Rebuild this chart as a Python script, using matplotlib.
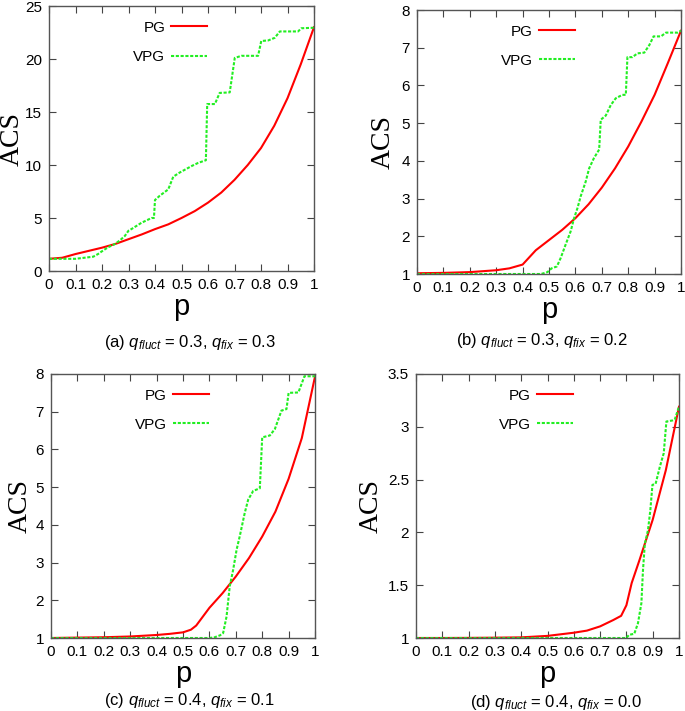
import matplotlib
matplotlib.use("Agg")
import matplotlib.pyplot as plt
from matplotlib.ticker import MultipleLocator, FormatStrFormatter

plt.rcParams['font.family'] = ['Liberation Sans', 'DejaVu Sans']
plt.rcParams['mathtext.fontset'] = 'custom'
plt.rcParams['mathtext.it'] = 'Liberation Sans:italic'
plt.rcParams['mathtext.rm'] = 'Liberation Sans'

# (a) q_fluct = 0.3, q_fix = 0.3
pg_p_a = [0, 0.05, 0.1, 0.15, 0.2, 0.25, 0.3, 0.35, 0.4, 0.45, 0.5, 0.55, 0.6, 0.65, 0.7,
          0.75, 0.8, 0.85, 0.9, 0.95, 1.0]
pg_a = [1.15, 1.25, 1.6, 1.9, 2.2, 2.55, 3.0, 3.45, 3.95, 4.4, 5.0, 5.65, 6.45, 7.4, 8.6,
        10.0, 11.6, 13.7, 16.3, 19.5, 23.0]
vpg_p_a = [0, 0.1, 0.167, 0.185, 0.205, 0.224, 0.249, 0.268, 0.286, 0.3, 0.314, 0.349, 0.387,
           0.396, 0.4, 0.418, 0.45, 0.469, 0.494, 0.538, 0.563, 0.592, 0.597, 0.626, 0.644,
           0.682, 0.701, 0.726, 0.789, 0.801, 0.827, 0.852, 0.871, 0.94, 0.952, 1.0]
vpg_a = [1.15, 1.15, 1.35, 1.6, 1.95, 2.25, 2.55, 2.9, 3.3, 3.8, 4.0, 4.55, 5.0,
         5.0, 6.7, 7.1, 7.7, 8.9, 9.3, 9.9, 10.2, 10.45, 15.75, 15.75, 16.8,
         16.85, 20.1, 20.3, 20.3, 21.7, 21.75, 22.0, 22.6, 22.6, 22.9, 22.95]

# (b) q_fluct = 0.3, q_fix = 0.2
pg_p_b = [0, 0.1, 0.2, 0.3, 0.35, 0.4, 0.45, 0.5, 0.55, 0.6, 0.65, 0.7, 0.75, 0.8, 0.85,
          0.9, 0.95, 1.0]
pg_b = [1.02, 1.03, 1.05, 1.1, 1.15, 1.25, 1.63, 1.9, 2.17, 2.48, 2.85, 3.29, 3.8, 4.38, 5.04,
        5.75, 6.59, 7.45]
vpg_p_b = [0, 0.47, 0.494, 0.51, 0.53, 0.544, 0.563, 0.582, 0.595, 0.608, 0.62, 0.639, 0.652,
           0.67, 0.69, 0.696, 0.715, 0.734, 0.753, 0.778, 0.791, 0.797, 0.816, 0.835, 0.861,
           0.88, 0.896, 0.924, 0.943, 0.987, 1.0]
vpg_b = [1.0, 1.0, 1.05, 1.15, 1.2, 1.42, 1.78, 2.13, 2.48, 2.75, 3.06, 3.45, 3.8,
         4.07, 4.3, 5.09, 5.2, 5.48, 5.66, 5.75, 5.75, 6.75, 6.75, 6.85, 6.87,
         7.07, 7.3, 7.3, 7.4, 7.4, 7.45]

# (c) q_fluct = 0.4, q_fix = 0.1
pg_p_c = [0, 0.1, 0.2, 0.3, 0.4, 0.45, 0.5, 0.53, 0.55, 0.6, 0.65, 0.7, 0.75, 0.8, 0.85,
          0.9, 0.95, 1.0]
pg_c = [1.0, 1.01, 1.02, 1.04, 1.08, 1.11, 1.15, 1.22, 1.33, 1.8, 2.19, 2.63, 3.12, 3.69, 4.35,
        5.22, 6.3, 7.93]
vpg_p_c = [0, 0.6, 0.62, 0.64, 0.652, 0.665, 0.677, 0.69, 0.703, 0.715, 0.734, 0.747, 0.766,
           0.791, 0.8, 0.829, 0.848, 0.873, 0.892, 0.9, 0.937, 0.96, 1.0]
vpg_c = [1.0, 1.0, 1.02, 1.07, 1.13, 1.57, 2.37, 2.81, 3.34, 3.7, 4.32, 4.67, 4.9,
         4.97, 6.32, 6.37, 6.54, 7.03, 7.07, 7.5, 7.51, 7.94, 7.94]

# (d) q_fluct = 0.4, q_fix = 0.0
pg_p_d = [0, 0.1, 0.2, 0.3, 0.4, 0.5, 0.6, 0.65, 0.7, 0.75, 0.78, 0.8, 0.82, 0.85, 0.9,
          0.95, 1.0]
pg_d = [1.0, 1.0, 1.001, 1.003, 1.006, 1.02, 1.05, 1.07, 1.11, 1.17, 1.21, 1.31, 1.52, 1.74, 2.12,
        2.59, 3.19]
vpg_p_d = [0, 0.8, 0.81, 0.83, 0.844, 0.857, 0.863, 0.87, 0.882, 0.891, 0.899, 0.911, 0.927,
           0.942, 0.952, 0.975, 0.984, 1.0]
vpg_d = [1.0, 1.0, 1.03, 1.04, 1.14, 1.33, 1.64, 1.89, 2.02, 2.21, 2.45, 2.46, 2.62,
         2.75, 3.05, 3.06, 3.07, 3.19]

captions = [r"(a) $q_{fluct}$ = 0.3, $q_{fix}$ = 0.3",
            r"(b) $q_{fluct}$ = 0.3, $q_{fix}$ = 0.2",
            r"(c) $q_{fluct}$ = 0.4, $q_{fix}$ = 0.1",
            r"(d) $q_{fluct}$ = 0.4, $q_{fix}$ = 0.0"]


def plot_panel(ax, pg_p, pg, vpg_p, vpg, ylim, ystep, ylabel_x):
    ax.plot(pg_p, pg, color='#ff0000', linewidth=1.5, label='PG')
    ax.plot(vpg_p, vpg, color='#22ee22', linewidth=1.5, linestyle=(0, (1.5, 0.8)), label='VPG')
    ax.set_xlim(0, 1)
    ax.set_ylim(*ylim)
    ax.xaxis.set_major_locator(MultipleLocator(0.1))
    ax.yaxis.set_major_locator(MultipleLocator(ystep))
    ax.xaxis.set_major_formatter(FormatStrFormatter('%g'))
    ax.yaxis.set_major_formatter(FormatStrFormatter('%g'))
    ax.tick_params(direction='in', length=5, width=0.8, top=True, right=True,
                   labelsize=11, pad=5, color='#444444')
    for s in ax.spines.values():
        s.set_color('#555555')
        s.set_linewidth(1.0)
    ax.set_xlabel('p', fontsize=21, labelpad=1)
    ax.set_ylabel('ACS', fontsize=20, family='Liberation Serif', va='center')
    ax.yaxis.set_label_coords(ylabel_x, 0.5)
    ax.legend(loc='upper right', bbox_to_anchor=(0.597, 0.945), frameon=False, markerfirst=False,
              fontsize=11, handlelength=2.35, handletextpad=0.4, labelspacing=1.0, borderpad=0,
              borderaxespad=0)


fig = plt.figure(figsize=(6.85, 7.11), dpi=100)
W, H = 685.0, 711.0
boxes = [(49, 6, 314, 271), (417, 10, 681, 274), (51, 374, 315, 638), (416, 374, 679, 638)]
axes = [fig.add_axes([x0 / W, 1 - y1 / H, (x1 - x0) / W, (y1 - y0) / H]) for x0, y0, x1, y1 in boxes]

plot_panel(axes[0], pg_p_a, pg_a, vpg_p_a, vpg_a, (0, 25), 5, -0.14)
plot_panel(axes[1], pg_p_b, pg_b, vpg_p_b, vpg_b, (1, 8), 1, -0.129)
plot_panel(axes[2], pg_p_c, pg_c, vpg_p_c, vpg_c, (1, 8), 1, -0.117)
plot_panel(axes[3], pg_p_d, pg_d, vpg_p_d, vpg_d, (1, 3.5), 0.5, -0.171)

caption_pos = [(190, 342), (542, 340), (189, 700), (556, 703)]
for (cx, cy), text in zip(caption_pos, captions):
    fig.text(cx / W, 1 - cy / H, text, ha='center', va='center', fontsize=12)

fig.savefig('out.png', dpi=100)
